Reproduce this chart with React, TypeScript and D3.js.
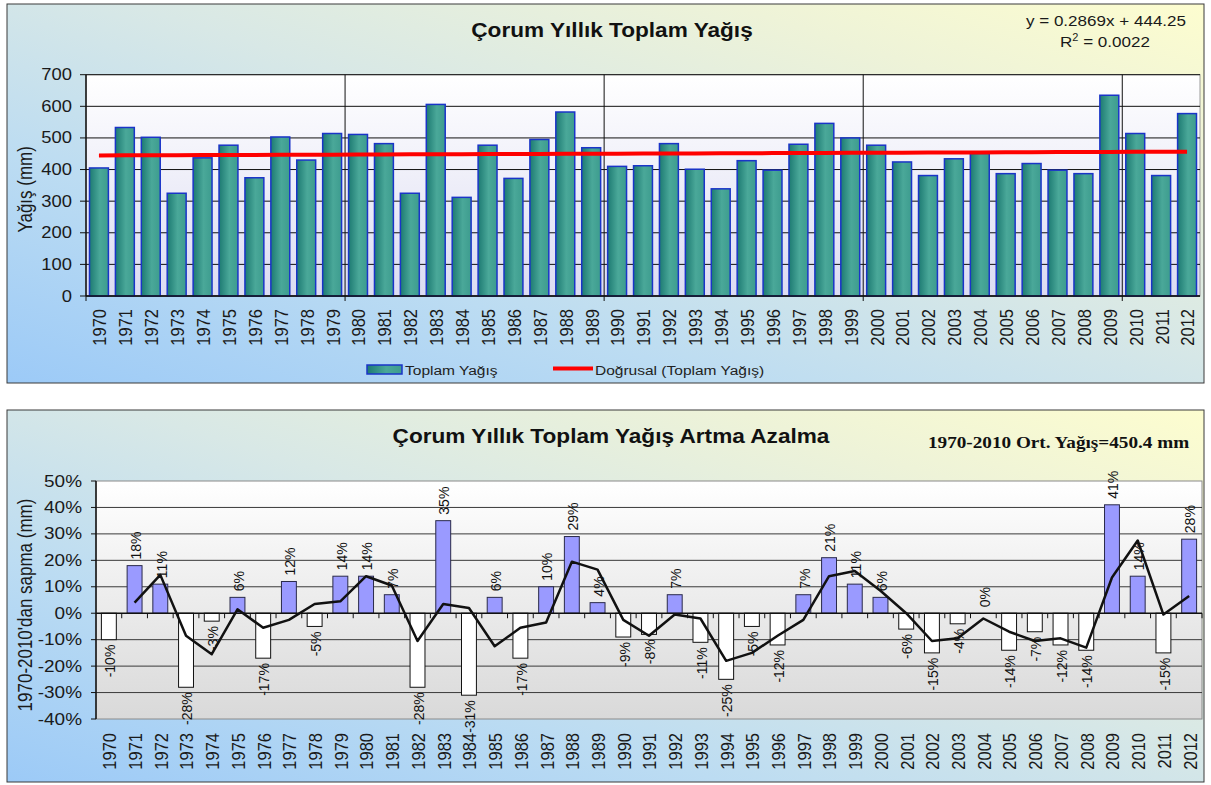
import React from "react";
import * as d3 from "d3";

const years = ["1970","1971","1972","1973","1974","1975","1976","1977","1978","1979","1980","1981","1982","1983","1984","1985","1986","1987","1988","1989","1990","1991","1992","1993","1994","1995","1996","1997","1998","1999","2000","2001","2002","2003","2004","2005","2006","2007","2008","2009","2010","2011","2012"];
const precip = [405,533,502,325,437,477,374,503,430,514,511,482,325,606,312,477,372,495,582,469,410,412,482,401,339,428,398,480,546,500,477,424,381,434,451,387,419,398,387,635,514,381,577];
const pct = [-10,18,11,-28,-3,6,-17,12,-5,14,14,7,-28,35,-31,6,-17,10,29,4,-9,-8,7,-11,-25,-5,-12,7,21,11,6,-6,-15,-4,0,-14,-7,-12,-14,41,14,-15,28];
const topTicks = [0,100,200,300,400,500,600,700];
const botTicks = [-40,-30,-20,-10,0,10,20,30,40,50];
const trendSlope = 0.2869;
const trendIntercept = 444.25;

const ARIAL = "'Liberation Sans', Arial, sans-serif";
const TIMES = "'Liberation Serif', 'Times New Roman', serif";
const SX = 1.15;

function T(props: any) {
  const { x, y, size, sx = SX, rot = 0, anchor = "start", weight = "normal", family = ARIAL, fill = "#1a1a1a", baseline, children } = props;
  return (
    <text
      transform={`translate(${x},${y}) scale(${sx},1)${rot ? ` rotate(${rot})` : ""}`}
      fontSize={size}
      fontFamily={family}
      fontWeight={weight}
      textAnchor={anchor}
      dominantBaseline={baseline}
      fill={fill}
    >
      {children}
    </text>
  );
}

export default function App() {
  // ---------- top chart ----------
  const tx0 = 86, tx1 = 1200, ty0 = 296, ty1 = 74.7;
  const xT = d3.scaleBand<string>().domain(years).range([tx0, tx1]).paddingInner(0.27).paddingOuter(0.135);
  const yT = d3.scaleLinear().domain([0, 700]).range([ty0, ty1]);
  const stepT = xT.step();
  const trendLine = d3.line<number>()
    .x((_, i) => (xT(years[i]) as number) + xT.bandwidth() / 2)
    .y((_, i) => yT(trendSlope * (i + 1) + trendIntercept));
  const trendPath = trendLine(precip) || "";

  // ---------- bottom chart ----------
  const bx0 = 96, bx1 = 1202, by0 = 719, by1 = 481;
  const xB = d3.scaleBand<string>().domain(years).range([bx0, bx1]).paddingInner(0.42).paddingOuter(0.21);
  const yB = d3.scaleLinear().domain([-40, 50]).range([by0, by1]);
  const stepB = xB.step();
  const maPts: [number, number][] = [];
  for (let i = 1; i < pct.length; i++) {
    maPts.push([(xB(years[i]) as number) + xB.bandwidth() / 2, yB((pct[i - 1] + pct[i]) / 2)]);
  }
  const maPath = d3.line()(maPts) || "";

  const decadeIdx = [10, 20, 30, 40];

  return (
    <svg width={1211} height={785} style={{ position: "absolute", left: 0, top: 0 }}>
      <defs>
        <linearGradient id="panelGrad" x1="0" y1="1" x2="1" y2="0">
          <stop offset="0" stopColor="#9ccaf7" />
          <stop offset="0.3" stopColor="#bcdcf2" />
          <stop offset="0.55" stopColor="#d8e8e6" />
          <stop offset="0.8" stopColor="#eef3d8" />
          <stop offset="1" stopColor="#fdfdcf" />
        </linearGradient>
        <linearGradient id="topPlotGrad" x1="0" y1="0" x2="0" y2="1">
          <stop offset="0" stopColor="#ffffff" />
          <stop offset="1" stopColor="#dcdcf2" />
        </linearGradient>
        <linearGradient id="botPlotGrad" x1="0" y1="0" x2="0" y2="1">
          <stop offset="0" stopColor="#ffffff" />
          <stop offset="1" stopColor="#d9d9d9" />
        </linearGradient>
        <linearGradient id="barGrad" x1="0" y1="0" x2="1" y2="0">
          <stop offset="0" stopColor="#1d7a72" />
          <stop offset="0.55" stopColor="#4aa899" />
          <stop offset="1" stopColor="#3d9c8e" />
        </linearGradient>
      </defs>

      {/* ================= TOP PANEL ================= */}
      <rect x={7} y={4} width={1197} height={379} fill="url(#panelGrad)" stroke="#3a3a3a" strokeWidth={1} />
      <rect x={tx0} y={ty1} width={tx1 - tx0} height={ty0 - ty1} fill="url(#topPlotGrad)" stroke="#9a9a9a" strokeWidth={1} />
      {topTicks.map((t) => (
        <line key={"tg" + t} x1={tx0 - 6} x2={tx1} y1={yT(t)} y2={yT(t)} stroke="#111" strokeWidth={1} />
      ))}
      {decadeIdx.map((i) => (
        <line key={"tv" + i} x1={tx0 + i * stepT} x2={tx0 + i * stepT} y1={ty1} y2={ty0 + 5} stroke="#111" strokeWidth={1} />
      ))}
      {precip.map((v, i) => (
        <rect
          key={"b" + i}
          x={xT(years[i])}
          y={yT(v)}
          width={xT.bandwidth()}
          height={ty0 - yT(v)}
          fill="url(#barGrad)"
          stroke="#1a34c8"
          strokeWidth={1.5}
        />
      ))}
      <line x1={tx0} x2={tx0} y1={ty1} y2={ty0} stroke="#111" strokeWidth={1.5} />
      <line x1={tx0} x2={tx1} y1={ty0} y2={ty0} stroke="#111" strokeWidth={1.5} />
      <line x1={tx0} x2={tx0} y1={ty0} y2={ty0 + 5} stroke="#111" strokeWidth={1} />
      <path d={trendPath} fill="none" stroke="#ff0000" strokeWidth={4} />
      {topTicks.map((t) => (
        <T key={"tl" + t} x={72} y={yT(t)} size={16} anchor="end" baseline="central">{t}</T>
      ))}
      {years.map((yr) => (
        <T key={"tx" + yr} x={(xT(yr) as number) + xT.bandwidth() / 2 + 1} y={309} size={16.5} rot={-90} anchor="end" baseline="central">{yr}</T>
      ))}
      <T x={25} y={(ty0 + ty1) / 2 + 4} size={17} rot={-90} anchor="middle" baseline="central">Yağış (mm)</T>
      <T x={612} y={36.5} size={19.5} sx={1.16} weight="bold" anchor="middle" fill="#111">Çorum Yıllık Toplam Yağış</T>
      <T x={1106} y={26} size={15.5} sx={1.1} anchor="middle">y = 0.2869x + 444.25</T>
      <text transform={`translate(1105,46.5) scale(1.1,1)`} fontSize={15.5} fontFamily={ARIAL} textAnchor="middle" fill="#1a1a1a">
        R<tspan dy={-6} fontSize={10}>2</tspan><tspan dy={6}> = 0.0022</tspan>
      </text>
      {/* legend */}
      <rect x={367} y={365} width={35} height={9} fill="url(#barGrad)" stroke="#1a34c8" strokeWidth={1.5} />
      <T x={405} y={375} size={13.5} fill="#222">Toplam Yağış</T>
      <line x1={553} x2={593} y1={368.5} y2={368.5} stroke="#ff0000" strokeWidth={4} />
      <T x={595} y={375} size={13.5} fill="#222">Doğrusal (Toplam Yağış)</T>

      {/* ================= BOTTOM PANEL ================= */}
      <rect x={7} y={410} width={1197} height={372} fill="url(#panelGrad)" stroke="#3a3a3a" strokeWidth={1} />
      <rect x={bx0} y={by1} width={bx1 - bx0} height={by0 - by1} fill="url(#botPlotGrad)" stroke="#8a8a8a" strokeWidth={1} />
      {botTicks.filter((t) => t !== -40 && t !== 50 && t !== 0).map((t) => (
        <line key={"bg" + t} x1={bx0} x2={bx1} y1={yB(t)} y2={yB(t)} stroke="#3a3a3a" strokeWidth={1} />
      ))}
      {pct.map((v, i) => (
        <rect
          key={"pb" + i}
          x={xB(years[i])}
          y={yB(Math.max(0, v))}
          width={xB.bandwidth()}
          height={Math.abs(yB(v) - yB(0))}
          fill={v >= 0 ? "#9a9aff" : "#ffffff"}
          stroke={v >= 0 ? "#2a2a4a" : "#111"}
          strokeWidth={1}
        />
      ))}
      {botTicks.map((t) => (
        <line key={"bt" + t} x1={bx0 - 5} x2={bx0} y1={yB(t)} y2={yB(t)} stroke="#111" strokeWidth={1} />
      ))}
      <line x1={bx0} x2={bx0} y1={by1} y2={by0} stroke="#111" strokeWidth={1.5} />
      <line x1={bx0} x2={bx1} y1={yB(0)} y2={yB(0)} stroke="#111" strokeWidth={1.5} />
      {years.map((_, i) => (
        <line key={"xt" + i} x1={bx0 + (i + 1) * stepB} x2={bx0 + (i + 1) * stepB} y1={yB(0)} y2={yB(0) + 5} stroke="#111" strokeWidth={1} />
      ))}
      <path d={maPath} fill="none" stroke="#111" strokeWidth={2.5} strokeLinejoin="round" />
      {pct.map((v, i) => {
        const cx = (xB(years[i]) as number) + xB.bandwidth() / 2 + 1;
        return v >= 0 ? (
          <T key={"dl" + i} x={cx} y={yB(v) - 6} size={14} sx={1.1} rot={-90} anchor="start" baseline="central" fill="#111">{v + "%"}</T>
        ) : (
          <T key={"dl" + i} x={cx} y={yB(v) + 5} size={14} sx={1.1} rot={-90} anchor="end" baseline="central" fill="#111">{v + "%"}</T>
        );
      })}
      {botTicks.map((t) => (
        <T key={"bl" + t} x={82} y={yB(t)} size={16.5} anchor="end" baseline="central">{t + "%"}</T>
      ))}
      {years.map((yr) => (
        <T key={"bx" + yr} x={(xB(yr) as number) + xB.bandwidth() / 2 + 1} y={733} size={16.5} rot={-90} anchor="end" baseline="central">{yr}</T>
      ))}
      <T x={25} y={605} size={17} rot={-90} anchor="middle" baseline="central">1970-2010'dan sapma (mm)</T>
      <T x={611} y={443} size={19.5} sx={1.16} weight="bold" anchor="middle" fill="#111">Çorum Yıllık Toplam Yağış Artma Azalma</T>
      <T x={928} y={448} size={16} sx={1.2} weight="bold" family={TIMES} fill="#111">1970-2010 Ort. Yağış=450.4 mm</T>
    </svg>
  );
}
